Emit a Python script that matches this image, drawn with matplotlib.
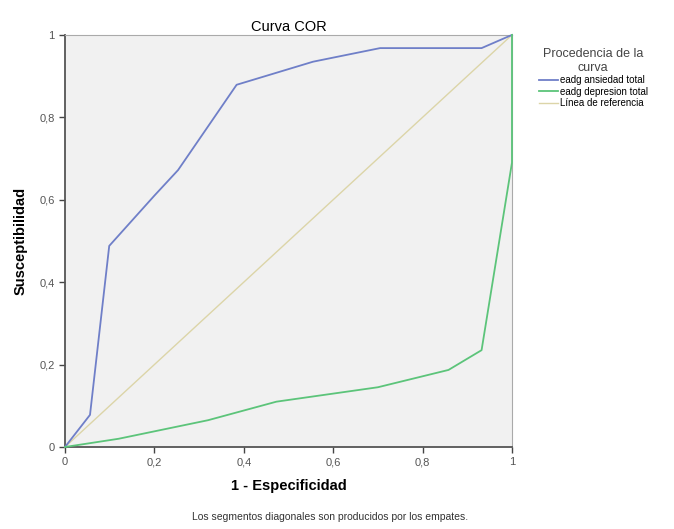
# Curva COR (ROC) for the two eadg scales, SPSS-like look

import matplotlib
matplotlib.use('Agg')
import matplotlib.pyplot as plt

plt.rcParams['font.family'] = ['Liberation Sans', 'DejaVu Sans']

# ---------------
# Data
# ---------------
ansiedad_x = [0.0, 0.056, 0.099, 0.20, 0.253, 0.384, 0.555, 0.705, 0.932, 1.0]
ansiedad_y = [0.0, 0.078, 0.488, 0.61, 0.672, 0.879, 0.935, 0.968, 0.968, 1.0]

depresion_x = [0.0, 0.12, 0.32, 0.473, 0.70, 0.858, 0.932, 1.0, 1.0]
depresion_y = [0.0, 0.02, 0.065, 0.11, 0.145, 0.187, 0.235, 0.69, 1.0]

referencia_x = [0.0, 1.0]
referencia_y = [0.0, 1.0]

ticks = [0, 0.2, 0.4, 0.6, 0.8, 1]
tick_labels = ['0', '0,2', '0,4', '0,6', '0,8', '1']

BLUE = '#6f7fc8'
GREEN = '#5cc47a'
BEIGE = '#dcd5a8'

fig = plt.figure(figsize=(6.74, 5.29), dpi=100)
ax = fig.add_axes([0.0964, 0.155, 0.6632, 0.779])
ax.set_facecolor('#f1f1f1')

ax.plot(ansiedad_x, ansiedad_y, color=BLUE, lw=1.3, label='eadg ansiedad total',
        clip_on=False, zorder=4)
ax.plot(depresion_x, depresion_y, color=GREEN, lw=1.3, label='eadg depresion total',
        clip_on=False, zorder=4)
ax.plot(referencia_x, referencia_y, color=BEIGE, lw=1.0, label='Línea de referencia')

ax.set_xlim(0, 1)
ax.set_ylim(0, 1)
ax.set_xticks(ticks)
ax.set_xticklabels(tick_labels)
ax.set_yticks(ticks)
ax.set_yticklabels(tick_labels)
ax.tick_params(labelsize=8, labelcolor='#555555', length=4, width=1, color='#444444')

for side in ['left', 'bottom']:
    ax.spines[side].set_color('#555555')
    ax.spines[side].set_linewidth(1.3)
for side in ['top', 'right']:
    ax.spines[side].set_color('#aaaaaa')
    ax.spines[side].set_linewidth(0.8)

ax.set_title('Curva COR', fontsize=10.5, pad=3)
ax.set_xlabel('1 - Especificidad', fontsize=10.5, fontweight='bold', labelpad=8)
ax.set_ylabel('Susceptibilidad', fontsize=10.5, fontweight='bold', labelpad=8)

leg = ax.legend(loc='upper left', bbox_to_anchor=(1.04, 0.99), frameon=False,
                title='Procedencia de la\ncurva', fontsize=7, title_fontsize=9,
                handlelength=2.0, handletextpad=0.2, labelspacing=0.15)
leg.get_title().set_color('#444444')
leg.get_title().set_multialignment('center')
leg._legend_box.align = 'center'

fig.text(0.49, 0.017, 'Los segmentos diagonales son producidos por los empates.',
         ha='center', fontsize=7.5, color='#333333')

fig.savefig('out.png', dpi=100)
